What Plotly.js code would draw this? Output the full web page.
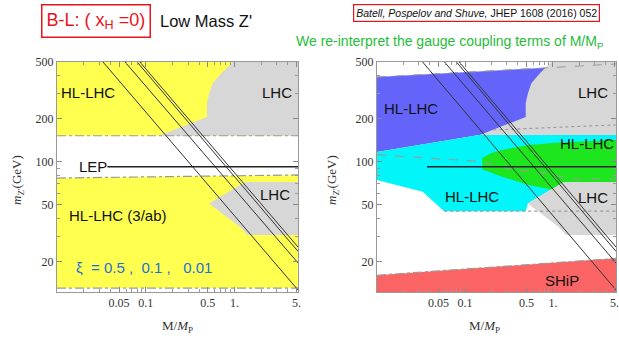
<!DOCTYPE html>
<html>
<head>
<meta charset="utf-8">
<script src="https://cdn.plot.ly/plotly-3.0.1.min.js"></script>
<style>html,body{margin:0;padding:0;background:#fff;}#chart{width:619px;height:338px;}</style>
</head>
<body>
<div id="chart"></div>
<script>
// ---------- data (x = M/M_P, y = m_Z' in GeV) ----------
const xTickVals = [0.05, 0.1, 0.5, 1, 5];
const xTickText = ['0.05', '0.1', '0.5', '1.', '5.'];
const yTickVals = [20, 50, 100, 200, 500];
const yTickText = ['20', '50', '100', '200', '500'];

// left panel
const yellowUpX = [0.01, 5.2, 5.2, 0.01];
const yellowUpY = [152, 152, 500, 500];
const lhcUpX = [0.96, 0.72, 0.57, 0.52, 0.49, 0.49, 0.14, 5.2, 5.2];
const lhcUpY = [500, 420, 356, 303, 258, 206, 152, 152, 500];
const yellowLowX = [0.01, 5.2, 5.2, 0.01];
const yellowLowY = [76.8, 80.7, 13, 13];
const lhcLowX = [1.32, 5.2, 5.2, 1.4, 1.15, 0.517];
const lhcLowY = [72, 72, 30.6, 30.6, 35, 51];
const dashUpX = [0.01, 5.2];
const dashUpY = [152, 152];
const dashMidX = [0.01, 5.2];
const dashMidY = [76.8, 80.7];
const dashLowX = [0.01, 5.2];
const dashLowY = [13, 13];

// xi lines (same on both panels)
const xiLine1X = [0.033, 5.2];
const xiLine1Y = [500, 12.6];
const xiLine2X = [0.0585, 5.2];
const xiLine2Y = [500, 19.5];
const xiLine3X = [0.080, 5.2];
const xiLine3Y = [500, 23.5];
const xiLine4X = [0.086, 5.2];
const xiLine4Y = [500, 25.2];
const lepX = [0.037, 5.2];
const lepY = [92, 92];

// right panel
const blueX = [0.01, 5.2, 5.2, 0.145, 0.01];
const blueY = [393, 484, 154, 154, 117];
const cyanX = [0.01, 0.145, 5.2, 5.2, 1.32, 0.517, 0.49, 0.058, 0.033, 0.01];
const cyanY = [117, 154, 154, 72, 72, 51, 45, 45, 61.5, 74.4];
const greenX = [0.157, 0.2, 0.264, 0.531, 1.07, 5.2, 5.2, 1.3, 1.016, 0.531, 0.264, 0.157];
const greenY = [106, 115, 121, 131, 136, 142, 70, 62, 63.3, 68.6, 78.5, 88.5];
const shipX = [0.01, 5.2, 5.2, 0.01];
const shipY = [16, 21, 12.2, 12.2];
const blueTopDashX = [0.01, 5.2];
const blueTopDashY = [393, 484];
const dotUpX = [0.21, 5.2];
const dotUpY = [167, 181];
const dot45X = [0.058, 5.2];
const dot45Y = [45, 45];
const greenDashX = [0.01, 0.157, 0.35, 0.8, 1.5, 5.2];
const greenDashY = [112, 100, 88, 84, 76, 76];
const shipDashX = [0.01, 5.2];
const shipDashY = [16, 21];

// ---------- styling ----------
const YEL = '#ffff50', GRY = '#d7d7d7', BLU = '#6464fb', CYN = '#00f6f8', GRN = '#1ee61e', RED = '#fb6464';

function area(x, y, color, xa, ya) {
  return {x: x, y: y, xaxis: xa, yaxis: ya, type: 'scatter', mode: 'lines', fill: 'toself',
          fillcolor: color, line: {width: 0, color: color}, hoverinfo: 'skip', showlegend: false};
}
function line(x, y, color, width, dash, xa, ya) {
  return {x: x, y: y, xaxis: xa, yaxis: ya, type: 'scatter', mode: 'lines',
          line: {color: color, width: width, dash: dash}, hoverinfo: 'skip', showlegend: false};
}

const traces = [];
// left panel
traces.push(area(yellowUpX, yellowUpY, YEL, 'x', 'y'));
traces.push(area(lhcUpX, lhcUpY, GRY, 'x', 'y'));
traces.push(area(yellowLowX, yellowLowY, YEL, 'x', 'y'));
traces.push(area(lhcLowX, lhcLowY, GRY, 'x', 'y'));
traces.push(line(dashUpX, dashUpY, '#9a9a9a', 1.2, 'dashdot', 'x', 'y'));
traces.push(line(dashMidX, dashMidY, '#9a9a9a', 1.2, 'dashdot', 'x', 'y'));
traces.push(line(dashLowX, dashLowY, '#9a9a9a', 1.2, 'dashdot', 'x', 'y'));
[[xiLine1X, xiLine1Y], [xiLine2X, xiLine2Y], [xiLine3X, xiLine3Y], [xiLine4X, xiLine4Y]].forEach(function (p) {
  traces.push(line(p[0], p[1], '#333', 1, 'solid', 'x', 'y'));
});
traces.push(line(lepX, lepY, '#222', 1.5, 'solid', 'x', 'y'));

// right panel
traces.push(area(blueX, blueY, BLU, 'x2', 'y2'));
traces.push(area(lhcUpX, lhcUpY, GRY, 'x2', 'y2'));
traces.push(area(cyanX, cyanY, CYN, 'x2', 'y2'));
traces.push(area(greenX, greenY, GRN, 'x2', 'y2'));
traces.push(area(lhcLowX, lhcLowY, GRY, 'x2', 'y2'));
traces.push(area(shipX, shipY, RED, 'x2', 'y2'));
traces.push(line(blueTopDashX, blueTopDashY, '#9a9a9a', 1.1, 'dash', 'x2', 'y2'));
traces.push(line(dotUpX, dotUpY, '#9a9a9a', 1.1, 'dot', 'x2', 'y2'));
traces.push(line(dot45X, dot45Y, '#9a9a9a', 1.1, 'dot', 'x2', 'y2'));
traces.push(line(greenDashX, greenDashY, '#9a9a9a', 1.1, 'dash', 'x2', 'y2'));
traces.push(line(shipDashX, shipDashY, '#9a9a9a', 1.1, 'dashdot', 'x2', 'y2'));
[[xiLine1X, xiLine1Y], [xiLine2X, xiLine2Y], [xiLine3X, xiLine3Y], [xiLine4X, xiLine4Y]].forEach(function (p) {
  traces.push(line(p[0], p[1], '#333', 1, 'solid', 'x2', 'y2'));
});
traces.push(line(lepX, lepY, '#222', 1.5, 'solid', 'x2', 'y2'));

const W = 619, H = 338;
const px = function (v) { return v / W; };
const py = function (v) { return 1 - v / H; };

const tickFont = {family: 'Liberation Serif, serif', size: 12, color: '#333'};
function xAxis(domain, anchor) {
  return {type: 'log', range: [-2, Math.log10(5.2)], domain: domain, anchor: anchor,
          tickvals: xTickVals, ticktext: xTickText, tickfont: tickFont,
          ticks: 'inside', ticklen: 5, tickcolor: '#888', mirror: 'allticks',
          showline: true, linecolor: '#999', linewidth: 1, showgrid: false, zeroline: false,
          minor: {tickvals: [0.02, 0.03, 0.04, 0.06, 0.07, 0.08, 0.09, 0.2, 0.3, 0.4, 0.6, 0.7, 0.8, 0.9, 2, 3, 4],
                  ticks: 'inside', ticklen: 3, tickcolor: '#999', showgrid: false},
          automargin: false, fixedrange: true};
}
function yAxis(anchor) {
  return {type: 'log', range: [Math.log10(12.2), Math.log10(500)], domain: [1 - 292 / H, 1 - 62 / H], anchor: anchor,
          tickvals: yTickVals, ticktext: yTickText, tickfont: tickFont,
          ticks: 'inside', ticklen: 5, tickcolor: '#888', mirror: 'allticks',
          showline: true, linecolor: '#999', linewidth: 1, showgrid: false, zeroline: false,
          minor: {tickvals: [30, 40, 60, 70, 80, 90, 300, 400],
                  ticks: 'inside', ticklen: 3, tickcolor: '#999', showgrid: false},
          automargin: false, fixedrange: true};
}

const sans = 'Liberation Sans, Arial, sans-serif';
function label(text, x, y, size, color) {
  return {text: text, xref: 'paper', yref: 'paper', x: px(x), y: py(y), xanchor: 'center', yanchor: 'middle',
          showarrow: false, font: {family: sans, size: size, color: color || '#111'}};
}

const annotations = [
  // header
  Object.assign(label('B-L: ( x<sub>H</sub> =0)', 95.5, 20.5, 18, '#e8141c'),
    {bordercolor: '#e8141c', borderwidth: 1.5, borderpad: 4}),
  label("Low Mass Z'", 206, 21, 16.5, '#111'),
  Object.assign(label('<i>Batell, Pospelov and Shuve,</i> JHEP 1608 (2016) 052', 476.5, 12.5, 10.5, '#111'),
    {bordercolor: '#e8141c', borderwidth: 1.2, borderpad: 2}),
  label('We re-interpret the gauge coupling terms of M/M<sub>P</sub>', 450, 42, 14, '#1fbd3a'),
  // left panel
  label('HL-LHC', 88, 93, 15),
  label('LHC', 277, 93, 15),
  label('LEP', 93, 166, 15),
  label('LHC', 275, 195, 15),
  label('HL-LHC (3/ab)', 118, 215, 15),
  label('ξ  = 0.5 ,  0.1 ,   0.01', 144, 267, 15, '#1d6fd6'),
  // right panel
  label('HL-LHC', 411, 108, 15),
  label('LHC', 593, 93, 15),
  label('HL-LHC', 587, 143, 15),
  label('HL-LHC', 472, 196, 15),
  label('LHC', 593, 197, 15),
  label('SHiP', 562, 280, 15),
  // axis titles
  {text: "<i>m</i><sub>Z'</sub>(GeV)", xref: 'paper', yref: 'paper', x: px(17), y: py(180), textangle: -90,
   showarrow: false, xanchor: 'center', yanchor: 'middle', font: {family: 'Liberation Serif, serif', size: 13, color: '#333'}},
  {text: "<i>m</i><sub>Z'</sub>(GeV)", xref: 'paper', yref: 'paper', x: px(332), y: py(180), textangle: -90,
   showarrow: false, xanchor: 'center', yanchor: 'middle', font: {family: 'Liberation Serif, serif', size: 13, color: '#333'}},
  {text: 'M/<i>M</i><sub>P</sub>', xref: 'paper', yref: 'paper', x: px(177), y: py(326),
   showarrow: false, xanchor: 'center', yanchor: 'middle', font: {family: 'Liberation Serif, serif', size: 13, color: '#333'}},
  {text: 'M/<i>M</i><sub>P</sub>', xref: 'paper', yref: 'paper', x: px(484), y: py(326),
   showarrow: false, xanchor: 'center', yanchor: 'middle', font: {family: 'Liberation Serif, serif', size: 13, color: '#333'}}
];

const layout = {
  width: W, height: H,
  margin: {l: 0, r: 0, t: 0, b: 0},
  paper_bgcolor: '#fff', plot_bgcolor: '#fff',
  showlegend: false,
  xaxis: xAxis([57 / W, 298 / W], 'y'),
  yaxis: yAxis('x'),
  xaxis2: xAxis([377 / W, 616 / W], 'y2'),
  yaxis2: yAxis('x2'),
  annotations: annotations
};

Plotly.newPlot('chart', traces, layout, {staticPlot: true, displayModeBar: false});
</script>
</body>
</html>
